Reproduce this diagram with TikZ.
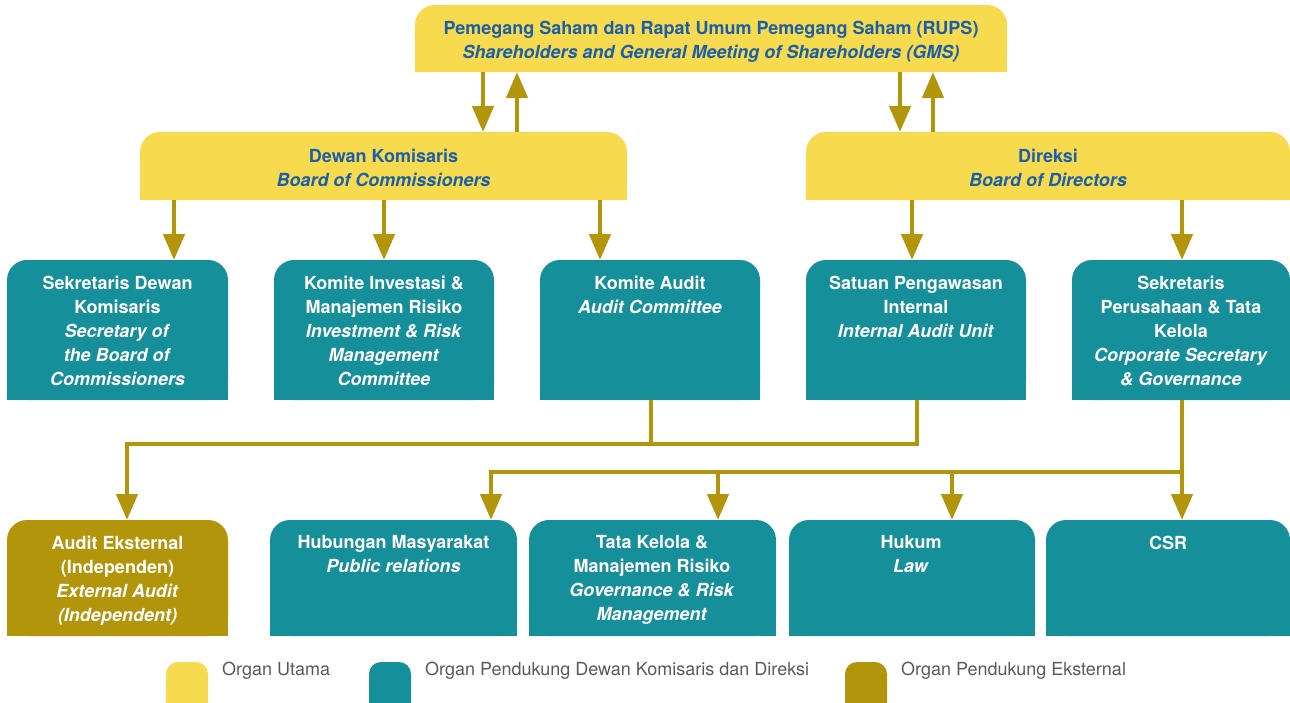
\documentclass[tikz,border=0pt]{standalone}
\usepackage{fontspec}
\setmainfont{TeX Gyre Heros}
\usetikzlibrary{arrows.meta}
\definecolor{ylw}{HTML}{F7DA4E}
\definecolor{tealc}{HTML}{158F9A}
\definecolor{olive}{HTML}{B3950B}
\definecolor{bluet}{HTML}{1A5FAA}
\definecolor{grayt}{HTML}{58595B}
% #1 name, #2 x1, #3 y1, #4 x2, #5 y2, #6 colour
\newcommand\shapebox[6]{%
  \fill[#6, rounded corners=20pt] (#2,#3) rectangle (#4,#5);
  \fill[#6] (#2,{(#3+#5)/2}) rectangle (#4,#5);
  \coordinate (#1-nw) at (#2,#3);
  \coordinate (#1-se) at (#4,#5);
}
\tikzset{
  x=1pt, y=-1pt,
  maintxt/.style={font=\fontsize{18}{24}\selectfont\bfseries, text=bluet, align=center, inner sep=0pt},
  subtxt/.style={font=\fontsize{18}{24}\selectfont\bfseries, text=white, align=center, inner sep=0pt, anchor=north},
  legtxt/.style={font=\fontsize{18}{21}\selectfont, text=grayt, anchor=west, inner sep=0pt},
  link/.style={draw=olive, line width=4.5pt},
  arr/.style={link, -{Triangle[width=21pt,length=26pt]}},
}
\begin{document}
\begin{tikzpicture}
\useasboundingbox (0,0) rectangle (1290,702);
% main organs
\shapebox{rups}{415}{5}{1007}{72}{ylw}
\node[maintxt] (rups) at (711,41.5) {Pemegang Saham dan Rapat Umum Pemegang Saham (RUPS)\\\textit{Shareholders and General Meeting of Shareholders (GMS)}};
\shapebox{dk}{140}{132}{627}{200}{ylw}
\node[maintxt] (dk) at (383.5,168) {Dewan Komisaris\\\textit{Board of Commissioners}};
\shapebox{dir}{806}{132}{1290}{200}{ylw}
\node[maintxt] (dir) at (1048,168) {Direksi\\\textit{Board of Directors}};
% second row
\shapebox{s1}{7}{260}{228}{400}{tealc}
\node[subtxt] (s1) at (117.5,275.5) {Sekretaris Dewan\\Komisaris\\\textit{Secretary of}\\\textit{the Board of}\\\textit{Commissioners}};
\shapebox{s2}{274}{260}{494}{400}{tealc}
\node[subtxt] (s2) at (384,275.5) {Komite Investasi \&\\Manajemen Risiko\\\textit{Investment \& Risk}\\\textit{Management}\\\textit{Committee}};
\shapebox{s3}{540}{260}{760}{400}{tealc}
\node[subtxt] (s3) at (650,275.5) {Komite Audit\\\textit{Audit Committee}};
\shapebox{s4}{806}{260}{1026}{400}{tealc}
\node[subtxt] (s4) at (916,275.5) {Satuan Pengawasan\\Internal\\\textit{Internal Audit Unit}};
\shapebox{s5}{1072}{260}{1290}{400}{tealc}
\node[subtxt] (s5) at (1181,275.5) {Sekretaris\\Perusahaan \& Tata\\Kelola\\\textit{Corporate Secretary}\\\textit{\& Governance}};
% third row
\shapebox{b1}{7}{520}{228}{636}{olive}
\node[subtxt] (b1) at (117.5,535.5) {Audit Eksternal\\(Independen)\\\textit{External Audit}\\\textit{(Independent)}};
\shapebox{b2}{270}{520}{517}{636}{tealc}
\node[subtxt] (b2) at (393.5,535.5) {Hubungan Masyarakat\\\textit{Public relations}};
\shapebox{b3}{529}{520}{776}{636}{tealc}
\node[subtxt] (b3) at (652,535.5) {Tata Kelola \&\\Manajemen Risiko\\\textit{Governance \& Risk}\\\textit{Management}};
\shapebox{b4}{789}{520}{1035}{636}{tealc}
\node[subtxt] (b4) at (911,535.5) {Hukum\\\textit{Law}};
\shapebox{b5}{1046}{520}{1290}{636}{tealc}
\node[subtxt] (b5) at (1168,535.5) {CSR};
% connectors top
\draw[arr] (483,72) -- (483,132);
\draw[arr] (517,132) -- (517,72);
\draw[arr] (900,72) -- (900,132);
\draw[arr] (933,132) -- (933,72);
% from boards to units
\draw[arr] (174,200) -- (174,260);
\draw[arr] (384,200) -- (384,260);
\draw[arr] (600,200) -- (600,260);
\draw[arr] (912,200) -- (912,260);
\draw[arr] (1182,200) -- (1182,260);
% audit
\coordinate (ja) at (651,444);
\draw[link] (651,400) -- (ja) -| (917,400);
\draw[arr] (ja) -| (127,520);
% corporate secretary
\coordinate (jc) at (1182,472);
\draw[arr] (1182,400) -- (1182,520);
\draw[arr] (jc) -| (491,520);
\draw[arr] (718,472) -- (718,520);
\draw[arr] (952,472) -- (952,520);
% legend
\fill[ylw, rounded corners=12pt] (166,662) rectangle (208,720);
\node[legtxt] (l1) at (222,671) {Organ Utama};
\fill[tealc, rounded corners=12pt] (369,662) rectangle (411,720);
\node[legtxt] (l2) at (425,671) {Organ Pendukung Dewan Komisaris dan Direksi};
\fill[olive, rounded corners=12pt] (845,662) rectangle (887,720);
\node[legtxt] (l3) at (901,671) {Organ Pendukung Eksternal};
\end{tikzpicture}
\end{document}
